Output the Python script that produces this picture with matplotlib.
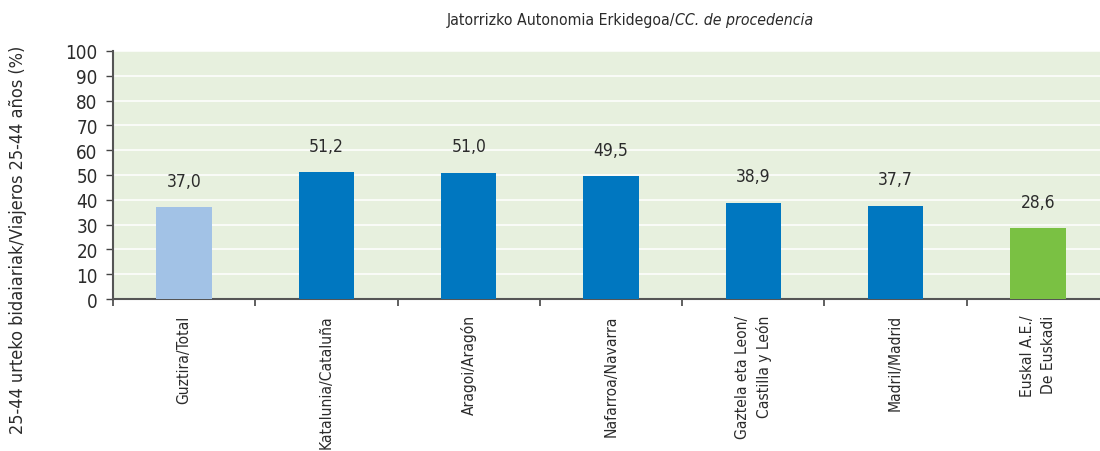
import matplotlib
matplotlib.use("Agg")
import matplotlib.pyplot as plt

categories = ["Guztira/Total", "Katalunia/Cataluña", "Aragoi/Aragón", "Nafarroa/Navarra",
              "Gaztela eta Leon/\nCastilla y León", "Madril/Madrid", "Euskal A.E./\nDe Euskadi"]
values = [37.0, 51.2, 51.0, 49.5, 38.9, 37.7, 28.6]
colors = ["#a2c2e6", "#0077c0", "#0077c0", "#0077c0", "#0077c0", "#0077c0", "#7ac143"]
yticks = list(range(0, 101, 10))
title = "Jatorrizko Autonomia Erkidegoa/"
title_it = "CC. de procedencia"
ylabel = "25-44 urteko bidaiariak/Viajeros 25-44 años (%)"

plt.rcParams['font.family'] = ["DejaVu Sans"]
plt.rcParams['font.stretch'] = "condensed"

W, H = 1100, 452
fig = plt.figure(figsize=(W / 100, H / 100), dpi=100)
left, right, top, bottom = 113, 1109, 52, 300
ax = fig.add_axes([left / W, 1 - bottom / H, (right - left) / W, (bottom - top) / H])
ax.set_facecolor("#e7f0de")

x = list(range(len(categories)))
ax.bar(x, values, width=0.39, color=colors, zorder=3)
for xi, v in zip(x, values):
    ax.text(xi, v + 10.5, f"{v:.1f}".replace(".", ","), ha="center", va="center",
            fontsize=12.5, color="#2b2b2b", zorder=4)

ax.set_ylim(0, 100)
ax.set_xlim(-0.5, len(categories) - 0.5)
ax.set_yticks(yticks)
ax.set_yticklabels([str(t) for t in yticks], fontsize=13.5, color="#2b2b2b")
ax.yaxis.grid(True, color="white", linewidth=1.1, zorder=1)
ax.set_axisbelow(True)

ax.set_xticks([i + 0.5 for i in range(-1, len(categories))])
ax.set_xticklabels([])
ax.set_xticks(x, minor=True)
ax.set_xticklabels(categories, minor=True, rotation=90, fontsize=11.2, color="#2b2b2b",
                   va="top", ha="center", multialignment="right", linespacing=1.45)
ax.tick_params(axis="x", which="minor", length=0, pad=11)
ax.tick_params(axis="x", which="major", length=5, width=1.2, color="#444444", direction="out")
ax.tick_params(axis="y", length=5, width=1, color="#444444", pad=6)

for s in ["top", "right"]:
    ax.spines[s].set_visible(False)
for s in ["left", "bottom"]:
    ax.spines[s].set_color("#555555")
    ax.spines[s].set_linewidth(1.5)

t1 = fig.text(0, 0, title, fontsize=11.3, color="#2b2b2b")
fig.canvas.draw()
r = fig.canvas.get_renderer()
bb1 = t1.get_window_extent(r)
t2 = fig.text(0, 0, title_it, fontsize=11.3, color="#2b2b2b", style="italic")
bb2 = t2.get_window_extent(r)
total = bb1.width + bb2.width
cx = 630
x0 = cx - total / 2
ty = 1 - 20 / H
t1.set_position((x0 / W, ty)); t1.set_va("center")
t2.set_position(((x0 + bb1.width) / W, ty)); t2.set_va("center")

fig.text(18 / W, 1 - 240 / H, ylabel, rotation=90, ha="center", va="center",
         fontsize=13, color="#2b2b2b")

fig.savefig("out.png", dpi=100, facecolor="white")
